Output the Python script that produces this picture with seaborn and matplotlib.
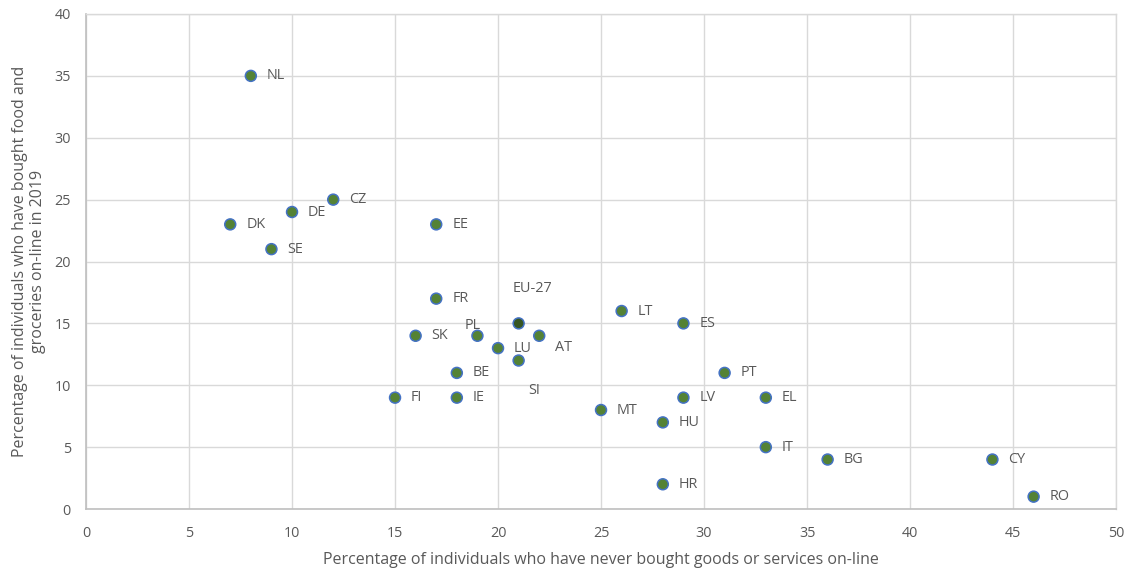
import matplotlib
matplotlib.use("Agg")
import matplotlib.pyplot as plt
import seaborn as sns
import pandas as pd

countries = ["NL", "CZ", "DE", "DK", "SE", "EE", "FR", "EU-27", "LT", "ES",
             "SK", "PL", "AT", "LU", "SI", "PT", "BE", "FI", "IE", "LV",
             "EL", "MT", "HU", "IT", "BG", "CY", "HR", "RO"]
never_bought = [8, 12, 10, 7, 9, 17, 17, 21, 26, 29,
                16, 19, 22, 20, 21, 31, 18, 15, 18, 29,
                33, 25, 28, 33, 36, 44, 28, 46]
food_online = [35, 25, 24, 23, 21, 23, 17, 15, 16, 15,
               14, 14, 14, 13, 12, 11, 11, 9, 9, 9,
               9, 8, 7, 5, 4, 4, 2, 1]

df = pd.DataFrame({
    "never": never_bought,
    "food": food_online,
    "country": countries,
    "group": ["EU" if c == "EU-27" else "MS" for c in countries],
})

TEXT = "#595959"
FS_LABEL = 11.5
FS_TICK = 10.4
sns.set_theme(style="white")
plt.rcParams["font.family"] = ["Open Sans", "DejaVu Sans"]

fig = plt.figure(figsize=(11.29, 5.69), dpi=100)
ax = fig.add_axes([0.0762, 0.1054, 0.9123, 0.87])

sns.scatterplot(data=df, x="never", y="food", hue="group",
                palette={"MS": "#548235", "EU": "#375623"},
                s=62, edgecolor="#4472C4", linewidth=1.1,
                legend=False, ax=ax, zorder=3)

# label offsets in pixels (dx from marker centre to label left/centre, dy)
offsets = {"EU-27": (14, 35, "center"), "PL": (-5, 10, "center"),
           "AT": (16, -12, "left"), "SI": (10, -30, "left")}
for c, xv, yv in zip(countries, never_bought, food_online):
    dx, dy, ha = offsets.get(c, (16, 0, "left"))
    ax.annotate(c, (xv, yv), xytext=(dx * 0.72, dy * 0.72),
                textcoords="offset points", ha=ha, va="center",
                fontsize=FS_TICK, color=TEXT)

ax.set_xlim(0, 50)
ax.set_ylim(0, 40)
ax.set_xticks(range(0, 51, 5))
ax.set_yticks(range(0, 41, 5))
ax.grid(True, color="#D9D9D9", linewidth=1)
ax.set_axisbelow(True)
for side in ["top", "right"]:
    ax.spines[side].set_color("#D9D9D9")
    ax.spines[side].set_linewidth(1)
for side in ["left", "bottom"]:
    ax.spines[side].set_color("#BFBFBF")
    ax.spines[side].set_linewidth(1.2)
ax.tick_params(axis="both", length=0, labelsize=FS_TICK, colors=TEXT)
ax.tick_params(axis="x", pad=12)
ax.tick_params(axis="y", pad=11)

ax.set_xlabel("Percentage of individuals who have never bought goods or services on-line",
              fontsize=FS_LABEL, color=TEXT, labelpad=8)
ax.set_ylabel("Percentage of individuals who have bought food and\ngroceries on-line in 2019",
              fontsize=FS_LABEL, color=TEXT, labelpad=6, linespacing=1.15)

fig.savefig("out.png", dpi=100, facecolor="white")
